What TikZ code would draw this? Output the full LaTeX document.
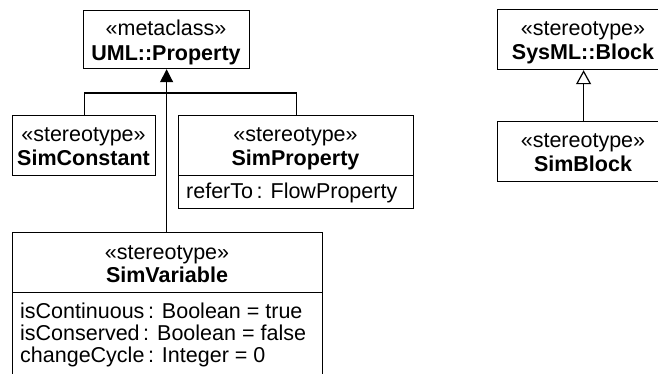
\documentclass[tikz,border=0pt]{standalone}
\usepackage{fontspec}
\setmainfont{Liberation Sans}
\usetikzlibrary{arrows.meta}

\tikzset{
  cls/.style={draw, line width=1.2pt, fill=white, inner sep=0pt, anchor=north west},
  stlabel/.style={anchor=base, inner sep=0pt, font=\fontsize{21.5}{22}\selectfont},
  clsname/.style={anchor=base, inner sep=0pt, font=\fontsize{21.5}{22}\selectfont\bfseries},
  attrline/.style={anchor=base west, inner sep=0pt, font=\fontsize{21.5}{22}\selectfont},
  link/.style={line width=1.2pt},
  genfill/.style={link, -{Triangle[width=13pt,length=13pt]}},
  genopen/.style={link, -{Triangle[open,width=15pt,length=14pt]}},
}

\begin{document}
\begin{tikzpicture}[x=1pt, y=-1pt]
  \useasboundingbox (0,0) rectangle (658,373);
  \clip (0,0) rectangle (658,373);

  % metaclass
  \node[cls, minimum width=166pt, minimum height=58pt] (prop) at (83,10) {};
  \node[stlabel] (propS) at (166,35) {«metaclass»};
  \node[clsname] (propN) at (166,60) {UML::Property};

  % SimConstant
  \node[cls, minimum width=143pt, minimum height=60pt] (sconst) at (12,115) {};
  \node[stlabel] (sconstS) at (83.5,141) {«stereotype»};
  \node[clsname] (sconstN) at (83.5,165) {SimConstant};

  % SimProperty
  \node[cls, minimum width=235pt, minimum height=60pt] (sprop) at (178,115) {};
  \node[cls, minimum width=235pt, minimum height=33pt] (spropA) at (178,175) {};
  \node[stlabel] (spropS) at (295.5,141) {«stereotype»};
  \node[clsname] (spropN) at (295.5,165) {SimProperty};
  \node[attrline] (spropA1) at (186,198) {referTo\,: FlowProperty};

  % SimVariable
  \node[cls, minimum width=310pt, minimum height=60pt] (svar) at (12,232) {};
  \node[cls, minimum width=310pt, minimum height=95pt] (svarA) at (12,292) {};
  \node[stlabel] (svarS) at (167,259) {«stereotype»};
  \node[clsname] (svarN) at (167,282) {SimVariable};
  \node[attrline] (svarA1) at (20,318) {isContinuous\,: Boolean = true};
  \node[attrline] (svarA2) at (20,340) {isConserved\,: Boolean = false};
  \node[attrline] (svarA3) at (20,362) {changeCycle\,: Integer = 0};

  % SysML::Block and SimBlock
  \node[cls, minimum width=172pt, minimum height=60pt] (block) at (497,9) {};
  \node[stlabel] (blockS) at (583,35) {«stereotype»};
  \node[clsname] (blockN) at (583,59) {SysML::Block};

  \node[cls, minimum width=172pt, minimum height=60pt] (sblock) at (497,121) {};
  \node[stlabel] (sblockS) at (583,147) {«stereotype»};
  \node[clsname] (sblockN) at (583,171) {SimBlock};

  % generalizations
  \coordinate (fork) at (166,93);
  \draw[link] (sconst.north) |- (fork) -| (sprop.north);
  \draw[genfill] (prop.south |- svar.north) -- (prop.south);
  \draw[genopen] (sblock.north) -- (block.south);
\end{tikzpicture}
\end{document}
